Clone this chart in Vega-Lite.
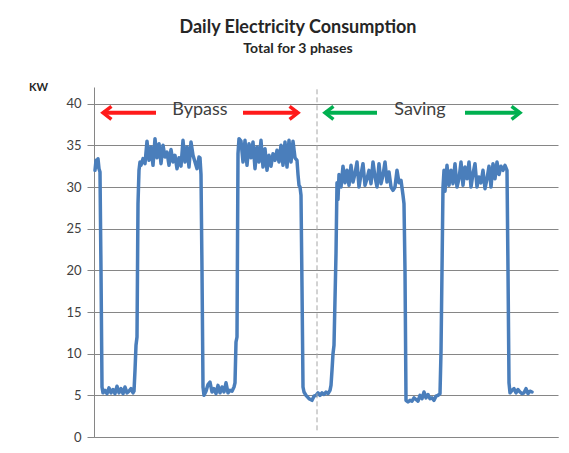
{
  "$schema": "https://vega.github.io/schema/vega-lite/v6.json",
  "autosize": {"type": "none"},
  "width": 464,
  "height": 350,
  "padding": {"left": 94, "top": 87, "right": 11, "bottom": 16},
  "background": "white",
  "title": {
    "text": "Daily Electricity Consumption",
    "subtitle": "Total for 3 phases",
    "font": "Lato", "fontSize": 18, "fontWeight": "bold", "color": "#262626",
    "subtitleFont": "Lato", "subtitleFontSize": 14, "subtitleFontWeight": "bold", "subtitleColor": "#262626",
    "subtitlePadding": 5,
    "anchor": "middle", "frame": "group", "dx": -28, "offset": 25
  },
  "config": {
    "view": {"stroke": null},
    "axis": {"labelFont": "Lato", "titleFont": "Lato"}
  },
  "datasets": {
    "load": [
      {"t":1,"kw":32.0},{"t":2,"kw":33.2},{"t":3,"kw":32.4},{"t":4,"kw":33.4},{"t":5,"kw":32.2},{"t":6,"kw":31.8},{"t":7,"kw":20},{"t":8,"kw":6.0},
      {"t":9,"kw":5.3},{"t":11,"kw":5.6},{"t":13,"kw":5.2},{"t":15,"kw":5.9},{"t":17,"kw":5.3},{"t":19,"kw":5.7},{"t":21,"kw":5.2},{"t":23,"kw":6.1},{"t":25,"kw":5.3},{"t":27,"kw":5.8},{"t":29,"kw":5.2},{"t":31,"kw":6.0},{"t":33,"kw":5.3},{"t":35,"kw":5.5},{"t":37,"kw":5.8},{"t":39,"kw":5.3},{"t":40,"kw":5.5},
      {"t":41,"kw":8},{"t":42,"kw":11},{"t":43,"kw":12},{"t":44,"kw":28},{"t":45,"kw":32.0},{"t":46,"kw":33.0},{"t":47,"kw":32.6},{"t":49,"kw":33.4},{"t":51,"kw":32.8},{"t":53,"kw":35.5},{"t":55,"kw":33.2},{"t":57,"kw":34.8},{"t":59,"kw":32.6},{"t":61,"kw":35.8},{"t":63,"kw":33.5},{"t":65,"kw":35.2},{"t":67,"kw":32.8},{"t":69,"kw":35.0},{"t":71,"kw":33.6},{"t":73,"kw":34.2},{"t":75,"kw":32.6},{"t":77,"kw":34.5},{"t":79,"kw":33.0},{"t":81,"kw":33.8},{"t":83,"kw":32.2},{"t":85,"kw":33.5},{"t":87,"kw":32.5},{"t":89,"kw":35.6},{"t":91,"kw":33.0},{"t":93,"kw":34.8},{"t":95,"kw":32.4},{"t":97,"kw":35.4},{"t":99,"kw":33.8},{"t":101,"kw":33.0},{"t":103,"kw":32.2},{"t":105,"kw":33.6},{"t":106,"kw":33.5},{"t":107,"kw":31.5},{"t":108,"kw":20},{"t":109,"kw":6.0},
      {"t":110,"kw":5.0},{"t":112,"kw":5.5},{"t":114,"kw":6.3},{"t":116,"kw":6.6},{"t":118,"kw":5.4},{"t":120,"kw":5.8},{"t":122,"kw":5.2},{"t":124,"kw":6.2},{"t":126,"kw":5.3},{"t":128,"kw":6.0},{"t":130,"kw":5.4},{"t":132,"kw":6.5},{"t":134,"kw":5.3},{"t":136,"kw":5.6},{"t":138,"kw":5.5},{"t":140,"kw":6.0},{"t":141,"kw":6.5},
      {"t":142,"kw":11.4},{"t":143,"kw":12},{"t":144,"kw":34},{"t":145,"kw":35.8},{"t":147,"kw":35.5},{"t":149,"kw":33.0},{"t":151,"kw":35.6},{"t":153,"kw":32.6},{"t":155,"kw":35.2},{"t":157,"kw":33.5},{"t":159,"kw":35.4},{"t":161,"kw":32.2},{"t":163,"kw":34.8},{"t":165,"kw":33.0},{"t":167,"kw":35.6},{"t":169,"kw":32.4},{"t":171,"kw":34.6},{"t":173,"kw":32.0},{"t":175,"kw":33.8},{"t":177,"kw":32.5},{"t":179,"kw":34.0},{"t":181,"kw":33.2},{"t":183,"kw":34.4},{"t":185,"kw":33.0},{"t":187,"kw":35.0},{"t":189,"kw":32.6},{"t":191,"kw":35.4},{"t":193,"kw":32.4},{"t":195,"kw":35.6},{"t":197,"kw":33.0},{"t":199,"kw":35.5},{"t":201,"kw":33.5},{"t":203,"kw":33.2},{"t":204,"kw":31.5},{"t":205,"kw":30.2},{"t":206,"kw":30.0},{"t":207,"kw":29.0},{"t":208,"kw":18},{"t":209,"kw":6.0},
      {"t":210,"kw":5.4},{"t":212,"kw":5.0},{"t":215,"kw":4.6},{"t":218,"kw":4.4},{"t":220,"kw":4.9},{"t":222,"kw":5.0},{"t":224,"kw":5.3},{"t":226,"kw":5.0},{"t":228,"kw":5.3},{"t":230,"kw":5.1},{"t":232,"kw":5.4},{"t":234,"kw":5.2},{"t":236,"kw":5.6},{"t":237,"kw":6.2},
      {"t":238,"kw":8},{"t":239,"kw":10},{"t":240,"kw":11},{"t":242,"kw":22},{"t":243,"kw":30.5},{"t":244,"kw":28.5},{"t":245,"kw":31.5},{"t":247,"kw":30.0},{"t":249,"kw":32.5},{"t":251,"kw":30.5},{"t":253,"kw":32.0},{"t":255,"kw":30.2},{"t":257,"kw":32.6},{"t":259,"kw":30.6},{"t":261,"kw":31.6},{"t":263,"kw":33.0},{"t":265,"kw":30.0},{"t":267,"kw":31.5},{"t":269,"kw":32.8},{"t":271,"kw":30.2},{"t":273,"kw":31.0},{"t":275,"kw":32.0},{"t":277,"kw":30.4},{"t":279,"kw":33.0},{"t":281,"kw":31.2},{"t":283,"kw":30.0},{"t":285,"kw":32.8},{"t":287,"kw":30.4},{"t":289,"kw":31.4},{"t":291,"kw":33.0},{"t":293,"kw":30.6},{"t":295,"kw":31.8},{"t":297,"kw":30.0},{"t":299,"kw":29.6},{"t":301,"kw":30.0},{"t":303,"kw":32.0},{"t":305,"kw":30.5},{"t":307,"kw":30.8},{"t":309,"kw":29.0},{"t":310,"kw":28.0},{"t":311,"kw":20},{"t":312,"kw":4.4},
      {"t":314,"kw":4.2},{"t":316,"kw":4.4},{"t":318,"kw":4.3},{"t":320,"kw":4.7},{"t":322,"kw":4.5},{"t":324,"kw":4.3},{"t":326,"kw":5.0},{"t":328,"kw":4.6},{"t":330,"kw":5.4},{"t":332,"kw":4.7},{"t":334,"kw":5.1},{"t":336,"kw":4.6},{"t":338,"kw":4.7},{"t":340,"kw":4.4},{"t":342,"kw":4.9},{"t":344,"kw":5.0},{"t":346,"kw":5.2},
      {"t":347,"kw":10.2},{"t":348,"kw":20},{"t":349,"kw":30.0},{"t":350,"kw":32.0},{"t":351,"kw":29.5},{"t":353,"kw":32.6},{"t":355,"kw":30.2},{"t":357,"kw":32.0},{"t":359,"kw":30.4},{"t":361,"kw":32.8},{"t":363,"kw":30.0},{"t":365,"kw":31.0},{"t":367,"kw":33.0},{"t":369,"kw":30.2},{"t":371,"kw":32.4},{"t":373,"kw":31.0},{"t":375,"kw":33.0},{"t":377,"kw":30.0},{"t":379,"kw":31.6},{"t":381,"kw":32.8},{"t":383,"kw":30.0},{"t":385,"kw":31.2},{"t":387,"kw":30.5},{"t":389,"kw":32.0},{"t":391,"kw":29.8},{"t":393,"kw":31.0},{"t":395,"kw":32.5},{"t":397,"kw":30.0},{"t":399,"kw":32.8},{"t":401,"kw":31.0},{"t":403,"kw":33.0},{"t":405,"kw":31.5},{"t":407,"kw":32.5},{"t":409,"kw":32.0},{"t":411,"kw":32.6},{"t":413,"kw":32.0},{"t":414,"kw":20},{"t":415,"kw":6.5},
      {"t":416,"kw":5.3},{"t":418,"kw":5.6},{"t":420,"kw":5.8},{"t":422,"kw":5.3},{"t":424,"kw":5.7},{"t":426,"kw":5.4},{"t":428,"kw":5.2},{"t":430,"kw":5.3},{"t":432,"kw":5.8},{"t":434,"kw":5.2},{"t":436,"kw":5.5},{"t":438,"kw":5.4}
    ],
    "divider": [{"t": 223, "lo": 0.8, "hi": 42}],
    "labels": [{"label": "Bypass", "t": 106, "kw": 38.7}, {"label": "Saving", "t": 326, "kw": 38.7}],
    "arrows": [
      {"mode": "Bypass", "dir": "left", "tip": 9, "tail": 62, "kw": 38.9},
      {"mode": "Bypass", "dir": "right", "tip": 204, "tail": 149, "kw": 38.9},
      {"mode": "Saving", "dir": "left", "tip": 231, "tail": 283, "kw": 38.9},
      {"mode": "Saving", "dir": "right", "tip": 426, "tail": 371, "kw": 38.9}
    ]
  },
  "layer": [
    {
      "data": {"name": "load"},
      "mark": {"type": "line", "color": "#4a7ebb", "strokeWidth": 3.5, "strokeJoin": "round", "strokeCap": "round"},
      "encoding": {
        "x": {"field": "t", "type": "quantitative", "scale": {"domain": [0, 464], "nice": false, "zero": false},
          "axis": {"title": null, "labels": false, "ticks": false, "grid": false, "domainColor": "#868686", "domainWidth": 1}},
        "y": {"field": "kw", "type": "quantitative", "scale": {"domain": [0, 42], "nice": false},
          "axis": {"title": "KW", "titleAngle": 0, "titleFontSize": 11, "titleFontWeight": "bold", "titleColor": "#262626",
            "titleAlign": "center", "titleBaseline": "middle", "titleX": -56, "titleY": 0,
            "values": [0, 5, 10, 15, 20, 25, 30, 35, 40], "labelFontSize": 13, "labelColor": "#404040", "labelPadding": 6,
            "tickSize": 7, "tickColor": "#868686", "domainColor": "#868686", "gridColor": "#868686", "gridWidth": 1, "grid": true}}
      }
    },
    {
      "data": {"name": "divider"},
      "mark": {"type": "rule", "color": "#a6a6a6", "strokeWidth": 1, "strokeDash": [5, 3]},
      "encoding": {
        "x": {"field": "t", "type": "quantitative"},
        "y": {"field": "lo", "type": "quantitative"},
        "y2": {"field": "hi"}
      }
    },
    {
      "data": {"name": "arrows"},
      "mark": {"type": "rule", "strokeWidth": 4},
      "encoding": {
        "x": {"field": "tip", "type": "quantitative"},
        "x2": {"field": "tail"},
        "y": {"field": "kw", "type": "quantitative"},
        "color": {"field": "mode", "type": "nominal", "scale": {"domain": ["Bypass", "Saving"], "range": ["#ff1a1a", "#00b050"]}, "legend": null}
      }
    },
    {
      "data": {"name": "arrows"},
      "mark": {"type": "point", "filled": false, "strokeWidth": 3.5, "size": 169, "opacity": 1},
      "encoding": {
        "x": {"field": "tip", "type": "quantitative"},
        "y": {"field": "kw", "type": "quantitative"},
        "shape": {"field": "dir", "type": "nominal", "scale": {"domain": ["left", "right"], "range": ["M1.3,-1L0,0L1.3,1", "M-1.3,-1L0,0L-1.3,1"]}, "legend": null},
        "color": {"field": "mode", "type": "nominal", "scale": {"domain": ["Bypass", "Saving"], "range": ["#ff1a1a", "#00b050"]}, "legend": null}
      }
    },
    {
      "data": {"name": "labels"},
      "mark": {"type": "text", "font": "Lato", "fontSize": 18, "color": "#404040", "baseline": "alphabetic", "align": "center"},
      "encoding": {
        "x": {"field": "t", "type": "quantitative"},
        "y": {"field": "kw", "type": "quantitative"},
        "text": {"field": "label"}
      }
    }
  ]
}
